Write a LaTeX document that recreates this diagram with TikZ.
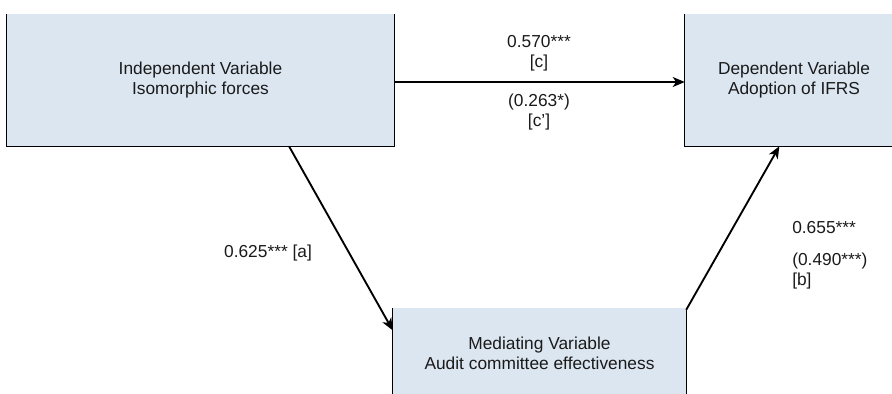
\documentclass[tikz,border=0pt]{standalone}
\usepackage{fontspec}
\setmainfont{Liberation Sans}
\usepackage{xcolor}
\usetikzlibrary{arrows.meta}
\definecolor{medFill}{HTML}{DCE6F1}
\definecolor{medLine}{HTML}{000000}
\definecolor{medText}{HTML}{1A1A1A}
\tikzset{
  varbox/.style={
    rectangle,
    fill=medFill,
    align=center,
    text=medText,
    font=\fontsize{13}{15}\selectfont,
    inner sep=0pt
  },
  coef/.style={
    align=center,
    text=medText,
    font=\fontsize{13}{15}\selectfont,
    inner sep=0pt
  },
  edge/.style={draw=medLine, line width=0.8pt},
  arrow/.style={-{Stealth[length=9pt,width=7.5pt,inset=2.5pt]}, line width=1.4pt, draw=medLine}
}

\begin{document}
\begin{tikzpicture}[x=0.75pt,y=-0.75pt]
  \useasboundingbox (0,0) rectangle (892,393);

  \node[varbox, minimum width=290.25pt, minimum height=99pt] (ind) at (200.5,80) {Independent Variable\\Isomorphic forces};
  \node[varbox, minimum width=163.5pt, minimum height=99pt] (dep) at (794,80) {Dependent Variable\\Adoption of IFRS};
  \node[varbox, minimum width=219.75pt, minimum height=67.5pt] (med) at (539.5,353) {Mediating Variable\\Audit committee effectiveness};

  % open box edges
  \draw[edge] (ind.north west) -- (ind.south west) -- (ind.south east) -- (ind.north east);
  \draw[edge] (dep.north west) -- (dep.south west) -- (dep.south east);
  \draw[edge] (med.north west) -- (med.south west);
  \draw[edge] (med.north east) -- (med.south east);

  \draw[arrow] ([yshift=-1.5pt]ind.east) -- ([yshift=-1.5pt]dep.west);
  \draw[arrow] ([xshift=66.4pt]ind.south) -- ([yshift=17pt]med.west);
  \draw[arrow] ([yshift=-1.5pt]med.north east) -- ([xshift=-11pt]dep.south);

  \node[coef] (cTop) at (539,53.5) {0.570***\\{[c]}};
  \node[coef] (cBot) at (539,112.5) {(0.263*)\\{[c']}};
  \node[coef] (aLab) at (268,253) {0.625*** [a]};
  \node[coef, anchor=west] (bTop) at (792,228) {0.655***};
  \node[coef, anchor=west, align=left] (bBot) at (792,271.5) {(0.490***)\\{[b]}};
\end{tikzpicture}
\end{document}
